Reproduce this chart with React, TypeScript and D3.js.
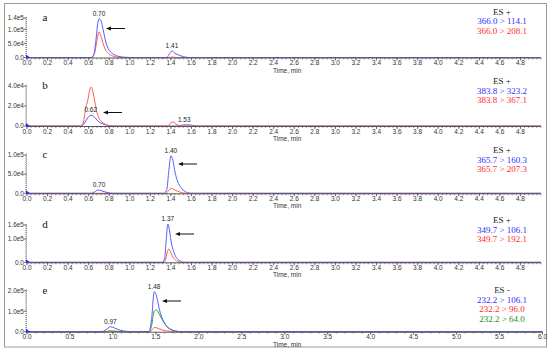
import React from "react";
import * as d3 from "d3";

type Pt = [number, number];

// ---------- data ----------
const panelLetters = ["a", "b", "c", "d", "e"];
const polarity = ["ES +", "ES +", "ES +", "ES +", "ES -"];
const transitionsA = ["366.0 > 114.1", "366.0 > 208.1"];
const transitionsB = ["383.8 > 323.2", "383.8 > 367.1"];
const transitionsC = ["365.7 > 160.3", "365.7 > 207.3"];
const transitionsD = ["349.7 > 106.1", "349.7 > 192.1"];
const transitionsE = ["232.2 > 106.1", "232.2 > 96.0", "232.2 > 64.0"];

const xMaxAD = 5;
const xMaxE = 6;
const xTicksAD = d3.range(0, 49).filter((i) => i % 2 === 0).map((i) => i / 10); // 0.0..4.8 step 0.2
const xTicksE = [0, 0.5, 1, 1.5, 2, 2.5, 3, 3.5, 4, 4.5, 5, 5.5, 6];

const yTicksA = [0, 5e4, 1e5, 1.4e5];
const yLabelsA = ["0.0", "5.0e4", "1.0e5", "1.4e5"];
const yTicksB = [0, 2e4, 4e4];
const yLabelsB = ["0.0", "2.0e4", "4.0e4"];
const yTicksC = [0, 5e4, 1e5];
const yLabelsC = ["0.0", "5.0e4", "1.0e5"];
const yTicksD = [0, 1e5, 1.6e5];
const yLabelsD = ["0.0", "1.0e5", "1.6e5"];
const yTicksE = [0, 1e5, 2e5];
const yLabelsE = ["0.0", "1.0e5", "2.0e5"];

const peakLabelsA: Pt[] = [[0.70, 1.375e5], [1.41, 0.23e5]];
const peakLabelsB: Pt[] = [[0.62, 1.07e4], [1.53, 0.12e4]];
const peakLabelsC: Pt[] = [[1.40, 0.98e5], [0.70, 0.085e5]];
const peakLabelsD: Pt[] = [[1.37, 1.64e5]];
const peakLabelsE: Pt[] = [[1.48, 1.95e5], [0.97, 0.24e5]];

const blueA: Pt[] = [[0, 0], [0.62, 0], [0.65, 0.1e5], [0.67, 0.6e5], [0.69, 1.25e5], [0.70, 1.375e5], [0.72, 1.3e5], [0.74, 1.0e5], [0.76, 0.65e5], [0.78, 0.4e5], [0.80, 0.25e5], [0.84, 0.12e5], [0.88, 0.05e5], [0.95, 0.01e5], [1.0, 0], [1.36, 0], [1.38, 0.1e5], [1.41, 0.23e5], [1.44, 0.15e5], [1.48, 0.08e5], [1.52, 0.03e5], [1.58, 0], [5, 0]];
const redA: Pt[] = [[0, 0], [0.63, 0], [0.66, 0.2e5], [0.68, 0.6e5], [0.70, 0.91e5], [0.72, 0.75e5], [0.74, 0.5e5], [0.76, 0.3e5], [0.79, 0.15e5], [0.83, 0.06e5], [0.88, 0.01e5], [0.92, 0], [1.38, 0], [1.41, 0.015e5], [1.46, 0], [5, 0]];

const blueB: Pt[] = [[0, 0], [0.53, 0], [0.56, 0.3e4], [0.59, 0.8e4], [0.62, 1.07e4], [0.65, 0.95e4], [0.68, 0.6e4], [0.71, 0.35e4], [0.75, 0.15e4], [0.80, 0.03e4], [0.85, 0], [1.45, 0], [1.50, 0.08e4], [1.55, 0.12e4], [1.60, 0.08e4], [1.66, 0], [5, 0]];
const redB: Pt[] = [[0, 0], [0.52, 0], [0.55, 0.4e4], [0.57, 1.8e4], [0.59, 2.5e4], [0.61, 3.6e4], [0.625, 3.9e4], [0.64, 3.5e4], [0.66, 2.4e4], [0.68, 1.4e4], [0.70, 0.8e4], [0.73, 0.4e4], [0.77, 0.15e4], [0.82, 0], [1.37, 0], [1.40, 0.35e4], [1.42, 0.4e4], [1.45, 0.2e4], [1.48, 0.05e4], [1.52, 0], [5, 0]];

const blueC: Pt[] = [[0, 0], [0.62, 0], [0.66, 0.04e5], [0.69, 0.085e5], [0.72, 0.07e5], [0.76, 0.035e5], [0.80, 0.01e5], [0.84, 0], [1.33, 0], [1.36, 0.1e5], [1.38, 0.6e5], [1.40, 0.98e5], [1.42, 0.85e5], [1.44, 0.55e5], [1.46, 0.35e5], [1.49, 0.18e5], [1.52, 0.08e5], [1.56, 0.02e5], [1.6, 0], [5, 0]];
const redC: Pt[] = [[0, 0], [1.35, 0], [1.38, 0.08e5], [1.40, 0.13e5], [1.43, 0.1e5], [1.46, 0.06e5], [1.50, 0.02e5], [1.55, 0], [5, 0]];

const blueD: Pt[] = [[0, 0], [1.32, 0], [1.34, 0.2e5], [1.355, 1.0e5], [1.37, 1.64e5], [1.385, 1.4e5], [1.40, 0.95e5], [1.42, 0.55e5], [1.44, 0.3e5], [1.47, 0.12e5], [1.50, 0.03e5], [1.53, 0], [5, 0]];
const redD: Pt[] = [[0, 0], [1.33, 0], [1.35, 0.15e5], [1.365, 0.45e5], [1.38, 0.57e5], [1.395, 0.45e5], [1.41, 0.3e5], [1.43, 0.16e5], [1.46, 0.06e5], [1.50, 0], [5, 0]];

const blueE: Pt[] = [[0, 0], [0.87, 0], [0.92, 0.1e5], [0.97, 0.24e5], [1.02, 0.18e5], [1.08, 0.08e5], [1.15, 0.02e5], [1.25, 0], [1.42, 0], [1.45, 0.6e5], [1.48, 1.95e5], [1.51, 1.7e5], [1.54, 1.1e5], [1.58, 0.6e5], [1.62, 0.3e5], [1.67, 0.12e5], [1.73, 0.03e5], [1.8, 0], [6, 0]];
const redE: Pt[] = [[0, 0], [0.90, 0], [0.97, 0.04e5], [1.05, 0.02e5], [1.15, 0], [1.43, 0], [1.46, 0.12e5], [1.49, 0.21e5], [1.53, 0.15e5], [1.58, 0.08e5], [1.64, 0.03e5], [1.72, 0], [6, 0]];
const greenE: Pt[] = [[0, 0], [0.90, 0], [0.97, 0.02e5], [1.05, 0.01e5], [1.12, 0], [1.42, 0], [1.45, 0.3e5], [1.48, 1.0e5], [1.51, 1.06e5], [1.54, 0.85e5], [1.58, 0.55e5], [1.62, 0.3e5], [1.67, 0.12e5], [1.73, 0.03e5], [1.8, 0], [6, 0]];

// ---------- layout ----------
const TRACE = ["#5a5aff", "#ff5a5a", "#2ea02e"];
const LEG = ["#2f2fff", "#ff2a2a", "#1e8c1e"];

interface Panel {
  letter: string;
  pol: string;
  trans: string[];
  series: Pt[][];
  xMax: number;
  xTicks: number[];
  yTicks: number[];
  yLabels: string[];
  peaks: Pt[];
  base: number;
  top: number;
  xRight: number;
  arrowY: number;
  arrowX: number;
  legY: number;
}

const panels: Panel[] = [
  { letter: panelLetters[0], pol: polarity[0], trans: transitionsA, series: [redA, blueA], xMax: xMaxAD, xTicks: xTicksAD, yTicks: yTicksA, yLabels: yLabelsA, peaks: peakLabelsA, base: 57.5, top: 18, xRight: 541, arrowY: 28.5, arrowX: 106, legY: 11.5 },
  { letter: panelLetters[1], pol: polarity[1], trans: transitionsB, series: [blueB, redB], xMax: xMaxAD, xTicks: xTicksAD, yTicks: yTicksB, yLabels: yLabelsB, peaks: peakLabelsB, base: 126, top: 86, xRight: 541, arrowY: 112.5, arrowX: 103, legY: 81 },
  { letter: panelLetters[2], pol: polarity[2], trans: transitionsC, series: [redC, blueC], xMax: xMaxAD, xTicks: xTicksAD, yTicks: yTicksC, yLabels: yLabelsC, peaks: peakLabelsC, base: 193.3, top: 155, xRight: 541, arrowY: 164, arrowX: 178, legY: 150 },
  { letter: panelLetters[3], pol: polarity[3], trans: transitionsD, series: [redD, blueD], xMax: xMaxAD, xTicks: xTicksAD, yTicks: yTicksD, yLabels: yLabelsD, peaks: peakLabelsD, base: 262.3, top: 225, xRight: 541, arrowY: 234, arrowX: 175, legY: 220 },
  { letter: panelLetters[4], pol: polarity[4], trans: transitionsE, series: [redE, greenE, blueE], xMax: xMaxE, xTicks: xTicksE, yTicks: yTicksE, yLabels: yLabelsE, peaks: peakLabelsE, base: 331.7, top: 290.7, xRight: 542.5, arrowY: 301, arrowX: 162, legY: 290 },
];

const seriesColor = (p: Panel, s: Pt[]) => {
  if ([blueA, blueB, blueC, blueD, blueE].includes(s)) return TRACE[0];
  if (s === greenE) return TRACE[2];
  return TRACE[1];
};

const AXIS = "#555";
const SANS = "Arial, 'Liberation Sans', sans-serif";
const SERIF = "'Times New Roman', 'Liberation Serif', serif";

function PanelView({ p }: { p: Panel }) {
  const x0 = 27;
  const x = d3.scaleLinear().domain([0, p.xMax]).range([x0, p.xRight]);
  const topVal = p.yTicks[p.yTicks.length - 1];
  const y = d3.scaleLinear().domain([0, topVal]).range([p.base, p.top]);
  const line = d3
    .line<Pt>()
    .x((d) => x(d[0]))
    .y((d) => y(d[1]))
    .curve(d3.curveMonotoneX);

  const majorStep = p.xTicks[1] - p.xTicks[0];
  const minorX = d3.range(0, Math.round(p.xMax / (majorStep / 5)) + 1).map((i) => (i * majorStep) / 5);
  const minorY = d3.range(0, 21).map((i) => (i * topVal) / 20);

  const legX = 502;

  return (
    <g>
      {/* traces */}
      {p.series.map((s, i) => (
        <path key={i} d={line(s) || ""} fill="none" stroke={seriesColor(p, s)} strokeWidth={1} />
      ))}
      {/* x axis */}
      <line x1={x0} x2={p.xRight} y1={p.base + 0.5} y2={p.base + 0.5} stroke={AXIS} strokeWidth={1} />
      {minorX.map((v, i) => (
        <line key={"mx" + i} x1={x(v)} x2={x(v)} y1={p.base + 0.5} y2={p.base + 2} stroke={AXIS} strokeWidth={0.6} />
      ))}
      {p.xTicks.map((v, i) => (
        <g key={"xt" + i}>
          <line x1={x(v)} x2={x(v)} y1={p.base + 0.5} y2={p.base + 3} stroke={AXIS} strokeWidth={0.8} />
          <text x={x(v)} y={p.base + 7.5} fontSize={6.5} fontFamily={SANS} fill="#333" textAnchor="middle">
            {v.toFixed(1)}
          </text>
        </g>
      ))}
      <text x={273} y={p.base + 15} fontSize={6.5} fontFamily={SANS} fill="#333">
        Time, min
      </text>
      {/* y axis */}
      <line x1={x0 - 0.5} x2={x0 - 0.5} y1={p.base + 0.5} y2={p.top - 2} stroke={AXIS} strokeWidth={0.6} strokeDasharray="1,1" />
      {minorY.map((v, i) => (
        <line key={"my" + i} x1={x0 - 2} x2={x0 - 0.5} y1={y(v)} y2={y(v)} stroke={AXIS} strokeWidth={0.5} />
      ))}
      {p.yTicks.map((v, i) => (
        <g key={"yt" + i}>
          <line x1={x0 - 3} x2={x0 - 0.5} y1={y(v)} y2={y(v)} stroke={AXIS} strokeWidth={0.8} />
          <text x={x0 - 3} y={y(v) + 2.3} fontSize={6.5} fontFamily={SANS} fill="#333" textAnchor="end">
            {p.yLabels[i]}
          </text>
        </g>
      ))}
      {/* origin marker */}
      <path d={`M${x0 - 1},${p.base - 3} L${x0 + 3},${p.base} L${x0 - 1},${p.base + 1} Z`} fill="#2a2aff" />
      {/* panel letter */}
      <text x={45} y={p.top + 3} fontSize={11} fontFamily={SERIF} fill="#111" textAnchor="middle">
        {p.letter}
      </text>
      {/* peak labels */}
      {p.peaks.map((pk, i) => (
        <text key={"pk" + i} x={x(pk[0])} y={y(pk[1]) - 3} fontSize={6.5} fontFamily={SANS} fill="#222" textAnchor="middle">
          {pk[0].toFixed(2)}
        </text>
      ))}
      {/* arrow */}
      <line x1={p.arrowX + 4} x2={p.arrowX + 19} y1={p.arrowY} y2={p.arrowY} stroke="#111" strokeWidth={1} />
      <path d={`M${p.arrowX},${p.arrowY} L${p.arrowX + 5},${p.arrowY - 2} L${p.arrowX + 5},${p.arrowY + 2} Z`} fill="#111" />
      {/* legend */}
      <text x={legX} y={p.legY + 3} fontSize={9} fontFamily={SERIF} fill="#222" textAnchor="middle">
        {p.pol}
      </text>
      {p.trans.map((t, i) => (
        <text key={"lg" + i} x={legX} y={p.legY + 3 + 9.6 * (i + 1)} fontSize={9} fontFamily={SERIF} fill={LEG[i]} textAnchor="middle">
          {t}
        </text>
      ))}
    </g>
  );
}

export default function App() {
  return (
    <svg
      width={550}
      height={351}
      viewBox="0 0 550 351"
      style={{ position: "absolute", left: 0, top: 0, background: "#fff" }}
    >
      <rect x={0} y={0} width={550} height={351} fill="#fff" />
      <rect x={4.5} y={3.5} width={542} height={343.5} fill="none" stroke="#9a9a9a" strokeWidth={1} />
      {panels.map((p, i) => (
        <PanelView key={i} p={p} />
      ))}
    </svg>
  );
}
